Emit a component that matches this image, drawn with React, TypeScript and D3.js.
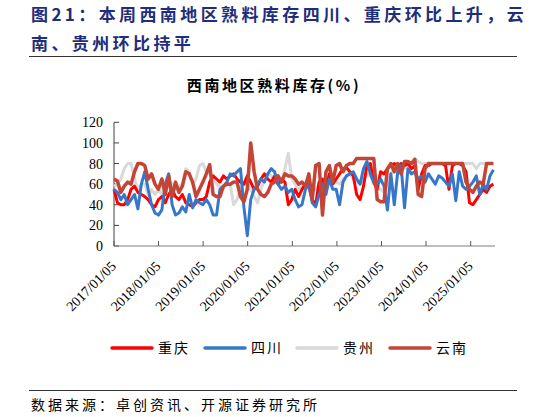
import React from 'react';
import * as d3 from 'd3';

// 4-weekly samples starting 2017/01/05
const startDate = new Date(2017, 0, 5);
const stepDays = 28;

const seriesNames = ['重庆', '四川', '贵州', '云南'];

const chongqing = [
  55, 42, 40, 40, 45, 55, 58, 52, 50, 48, 45, 40, 38,
  45, 48, 42, 50, 55, 48, 45, 50, 42, 40, 38, 42, 45,
  45, 48, 62, 68, 65, 62, 68, 65, 68, 70, 65, 62, 60,
  68, 62, 55, 58, 65, 70, 65, 62, 68, 60, 65, 62, 40,
  45, 55, 48, 55, 60, 58, 45, 40, 62, 65, 55, 70, 60,
  65, 70, 75, 76, 72, 68, 50, 45, 58, 78, 80, 62, 55,
  72, 70, 75, 78, 80, 76, 80, 78, 80, 75, 78, 55, 70,
  78, 78, 80, 80, 80, 80, 78, 55, 78, 80, 80, 78, 72,
  42, 40, 45, 50, 55, 52, 58, 60,
];

const sichuan = [
  55, 52, 45, 50, 40, 45, 50, 36, 60, 72, 55, 40, 32,
  30, 35, 60, 70, 40, 30, 32, 38, 33, 50, 37, 45, 42,
  40, 45, 40, 30, 30, 55, 58, 62, 70, 68, 72, 75, 38,
  10, 45, 55, 60, 65, 62, 70, 75, 72, 60, 55, 58, 52,
  55, 45, 38, 40, 55, 60, 42, 38, 50, 60, 50, 65, 55,
  55, 40, 62, 68, 70, 72, 65, 60, 75, 82, 70, 62, 60,
  65, 58, 35, 70, 40, 72, 78, 37, 75, 70, 72, 65, 68,
  62, 70, 65, 60, 68, 66, 62, 58, 70, 44, 72, 58, 55,
  58, 62, 68, 50, 60, 55, 68, 74,
];

const guizhou = [
  58, 60, 65, 75, 80, 80, 65, 55, 60, 60, 50, 55, 50,
  55, 50, 62, 65, 60, 55, 58, 60, 75, 72, 60, 65, 78,
  80, 72, 70, 65, 60, 58, 55, 62, 60, 40, 45, 55, 60,
  60, 55, 48, 42, 55, 65, 70, 68, 65, 60, 62, 75, 90,
  65, 60, 55, 58, 60, 62, 60, 55, 60, 65, 62, 68, 62,
  62, 60, 65, 68, 70, 65, 62, 60, 65, 70, 68, 60, 55,
  55, 52, 60, 70, 75, 78, 80, 75, 78, 80, 85, 82, 80,
  80, 80, 80, 80, 80, 80, 80, 80, 80, 80, 80, 80, 80,
  80, 80, 75, 80, 80, 80, 80, 80,
];

const yunnan = [
  65, 63, 52, 58, 62, 60, 72, 80, 80, 78, 65, 70, 60,
  55, 65, 50, 68, 48, 62, 52, 58, 72, 70, 62, 48, 55,
  62, 70, 79, 50, 48, 48, 58, 60, 60, 62, 62, 48, 43,
  55, 100, 72, 55, 50, 48, 52, 60, 62, 68, 62, 70, 68,
  68, 65, 60, 62, 58, 70, 45, 78, 80, 30, 72, 78, 62,
  78, 80, 72, 78, 80, 80, 85, 85, 85, 85, 85, 85, 45,
  43, 43, 75, 80, 72, 80, 70, 82, 82, 80, 84, 50, 48,
  75, 80, 80, 80, 80, 80, 80, 80, 80, 80, 80, 80, 62,
  55, 52, 58, 62, 60, 80, 80, 80,
];

const yTicks = [0, 20, 40, 60, 80, 100, 120];
const xTickLabels = [
  '2017/01/05', '2018/01/05', '2019/01/05', '2020/01/05', '2021/01/05',
  '2022/01/05', '2023/01/05', '2024/01/05', '2025/01/05',
];

const colors = ['#ff0000', '#3777c9', '#d9d9d9', '#c44536'];
const widths = [3, 3, 3, 3.5];

const parseDate = d3.timeParse('%Y/%m/%d');

export default function App() {
  const W = 546;
  const H = 417;
  const left = 114;
  const right = 495;
  const top = 122.3;
  const bottom = 246;

  const x = d3
    .scaleTime()
    .domain([parseDate('2017/01/05') as Date, parseDate('2025/01/05') as Date])
    .range([left, 470.7]);
  const y = d3.scaleLinear().domain([0, 120]).range([bottom, top]);

  const dates = chongqing.map((_, i) => d3.timeDay.offset(startDate, i * stepDays));
  const line = d3
    .line<number>()
    .x((_, i) => x(dates[i]))
    .y((d) => y(d));

  const all = [chongqing, sichuan, guizhou, yunnan];
  const drawOrder = [2, 0, 1, 3];

  const cjk = '"Noto Sans CJK SC", sans-serif';
  const serif = '"Liberation Serif", "Times New Roman", serif';

  const legendX = [112, 205, 297, 390];

  return (
    <svg
      width={W}
      height={H}
      style={{ position: 'absolute', left: 0, top: 0, background: '#fff' }}
    >
      {/* header */}
      <text x={31} y={21} fontFamily={cjk} fontWeight={700} fontSize={17} fill="#1f2d7b" letterSpacing={3.4}>
        图21：本周西南地区熟料库存四川、重庆环比上升，云
      </text>
      <text x={31} y={50} fontFamily={cjk} fontWeight={700} fontSize={17} fill="#1f2d7b" letterSpacing={3.4}>
        南、贵州环比持平
      </text>
      <line x1={29} x2={517} y1={56.5} y2={56.5} stroke="#333" strokeWidth={1} />

      <text x={274} y={91} textAnchor="middle" fontFamily={cjk} fontWeight={700} fontSize={15} fill="#000" letterSpacing={2.6}>
        西南地区熟料库存(%)
      </text>

      {/* y axis */}
      <line x1={left} x2={left} y1={top} y2={bottom} stroke="#404040" strokeWidth={1} />
      {yTicks.map((t) => (
        <g key={t}>
          <line x1={left} x2={left + 5} y1={y(t)} y2={y(t)} stroke="#404040" />
          <text x={103} y={y(t) + 5} textAnchor="end" fontFamily={serif} fontSize={14} fill="#000">
            {t}
          </text>
        </g>
      ))}

      {/* x axis */}
      <line x1={left} x2={right} y1={bottom} y2={bottom} stroke="#7f7f7f" strokeWidth={1.2} />
      {xTickLabels.map((lab) => {
        const px = x(parseDate(lab) as Date);
        return (
          <g key={lab}>
            <line x1={px} x2={px} y1={bottom} y2={bottom - 5} stroke="#595959" />
            <text
              transform={`translate(${px + 3},${bottom + 21}) rotate(-45)`}
              textAnchor="end"
              fontFamily={serif}
              fontSize={14}
              fill="#000"
            >
              {lab}
            </text>
          </g>
        );
      })}

      {/* series */}
      {drawOrder.map((si) => (
        <path
          key={si}
          d={line(all[si]) || ''}
          fill="none"
          stroke={colors[si]}
          strokeWidth={widths[si]}
          strokeLinejoin="round"
        />
      ))}

      {/* legend */}
      {seriesNames.map((name, i) => (
        <g key={name}>
          <line
            x1={legendX[i]}
            x2={legendX[i] + 40}
            y1={348}
            y2={348}
            stroke={colors[i]}
            strokeWidth={3.5}
            strokeLinecap="round"
          />
          <text x={legendX[i] + 46} y={353} fontFamily={cjk} fontSize={14} fill="#000" letterSpacing={2}>
            {name}
          </text>
        </g>
      ))}

      {/* footer */}
      <line x1={29} x2={517} y1={390.5} y2={390.5} stroke="#333" strokeWidth={1} />
      <text x={31} y={410} fontFamily={cjk} fontSize={14} fill="#000" letterSpacing={3}>
        数据来源：卓创资讯、开源证券研究所
      </text>
    </svg>
  );
}
